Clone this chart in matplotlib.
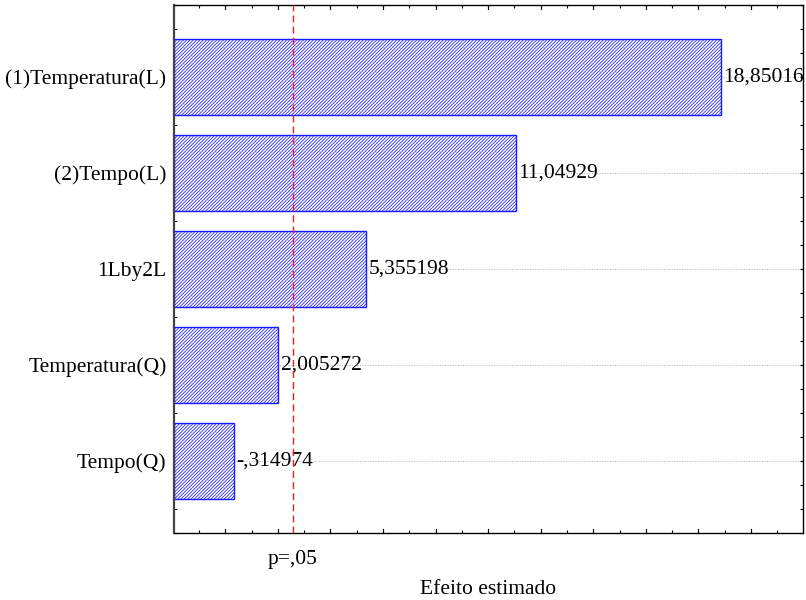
import numpy as np
import matplotlib
matplotlib.use("Agg")
from matplotlib import pyplot as plt
from matplotlib.ticker import MultipleLocator

# effects (standardized), ordered as in the chart, top to bottom
factors = ["(1)Temperatura(L)", "(2)Tempo(L)", "1Lby2L", "Temperatura(Q)", "Tempo(Q)"]
effects = [18.85016, 11.04929, 5.355198, 2.005272, -0.314974]
effect_labels = ["18,85016", "11,04929", "5,355198", "2,005272", "-,314974"]
p_crit = 2.570582
p_label = "p=,05"

plt.rcParams['font.family'] = ['Liberation Serif', 'DejaVu Serif']
plt.rcParams['hatch.linewidth'] = 0.55
plt.rcParams['hatch.color'] = '#3030ff'

fig = plt.figure(figsize=(8.06, 6.0), dpi=100)
ax = fig.add_axes([173.5 / 806, 1 - 533 / 600, (803 - 173.5) / 806, (533 - 5) / 600])

xmin, xmax = -1.97, 21.98
ypos = np.arange(len(factors))
lengths = np.abs(effects)
fs = 15.5

# grid behind bars
for y in ypos:
    ax.axhline(y, color='#b0b0b0', linestyle=':', linewidth=0.7, zorder=0)

ax.barh(ypos, lengths - xmin, left=xmin, height=0.8, color='white',
        edgecolor='#1a1aff', hatch='//////////', linewidth=1.0, zorder=2)

for y, v, lab in zip(ypos, lengths, effect_labels):
    ax.text(v + 0.1, y, lab, ha='left', va='center', fontsize=fs,
            zorder=3, clip_on=False)

ax.axvline(p_crit, color='#ff1a1a', linestyle=(0, (5, 3)), linewidth=1.0, zorder=4)

ax.set_xlim(xmin, xmax)
ax.set_ylim(4.75, -0.75)

ax.set_yticks(ypos)
ax.set_yticklabels(factors, fontsize=fs)
ax.yaxis.set_minor_locator(MultipleLocator(0.25))
ax.set_xticks([p_crit])
ax.set_xticklabels([p_label], fontsize=fs)
ax.tick_params(axis='x', which='major', length=0, pad=12)

# odd positions as minor ticks, even ones longer, drawn below
ax.xaxis.set_minor_locator(MultipleLocator(1))
ax.tick_params(axis='x', which='minor', direction='in', length=2.5, width=0.8,
               top=True, bottom=True)
ax.tick_params(axis='y', which='both', direction='in', length=2.5, width=0.8,
               left=True, right=True, pad=5)
for x in np.arange(0, 22, 2):
    ax.plot([x, x], [4.75, 4.75 - 0.04], color='black', lw=0.8, clip_on=False, zorder=5)
    ax.plot([x, x], [-0.75, -0.75 + 0.04], color='black', lw=0.8, clip_on=False, zorder=5)

ax.set_xlabel("Efeito estimado", fontsize=fs, labelpad=8.5)

for s in ['top', 'bottom', 'right']:
    ax.spines[s].set_linewidth(1.0)
ax.spines['left'].set_linewidth(1.6)
ax.spines['left'].set_color('#444444')

fig.savefig("out.png", dpi=100)
